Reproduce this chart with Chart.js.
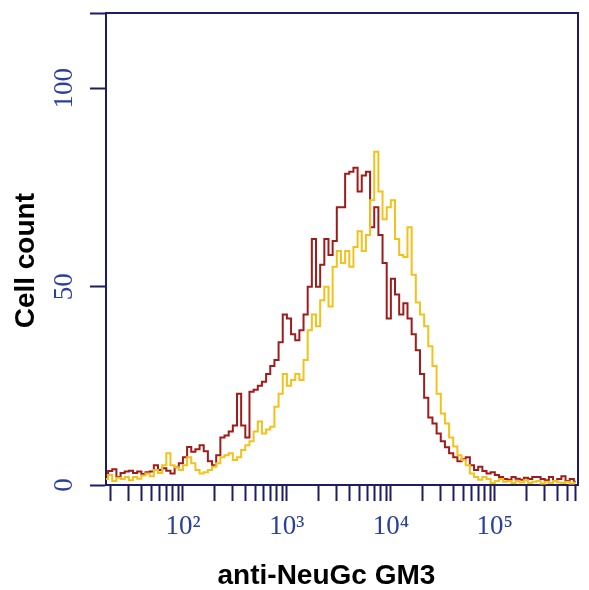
<!DOCTYPE html>
<html>
<head>
<meta charset="utf-8">
<script src="https://cdn.jsdelivr.net/npm/chart.js@4.4.1/dist/chart.umd.min.js"></script>
<style>
  html, body { margin: 0; padding: 0; background: #ffffff; }
  #wrap { width: 589px; height: 590px; }
</style>
</head>
<body>
<div id="wrap"><canvas id="c" width="589" height="590"></canvas></div>
<script>
// Channel positions (log10 of fluorescence intensity)
const channelLog = [
  1.26,1.30,1.34,1.38,1.42,1.46,1.50,1.54,1.58,1.62,
  1.66,1.70,1.74,1.78,1.82,1.86,1.90,1.94,1.98,2.02,
  2.06,2.10,2.14,2.18,2.22,2.26,2.30,2.34,2.38,2.42,
  2.46,2.50,2.54,2.58,2.62,2.66,2.70,2.74,2.78,2.82,
  2.86,2.90,2.94,2.98,3.02,3.06,3.10,3.14,3.18,3.22,
  3.26,3.30,3.34,3.38,3.42,3.46,3.50,3.54,3.58,3.62,
  3.66,3.70,3.74,3.78,3.82,3.86,3.90,3.94,3.98,4.02,
  4.06,4.10,4.14,4.18,4.22,4.26,4.30,4.34,4.38,4.42,
  4.46,4.50,4.54,4.58,4.62,4.66,4.70,4.74,4.78,4.82,
  4.86,4.90,4.94,4.98,5.02,5.06,5.10,5.14,5.18,5.22,
  5.26,5.30,5.34,5.38,5.42,5.46,5.50,5.54,5.58,5.62,
  5.66,5.70,5.74,5.78
];

// Cell counts, dark red histogram
const redCounts = [
  2.5,3.5,4,2,3,3.4,3.6,3,3.4,2.8,
  3.2,3.4,5,3.8,4.2,3.6,2.9,4.5,5.5,7,
  9.6,8.4,9,10,8.5,6,5,7.5,12,12.5,
  13.5,15,23,15,12,23.5,24,25,26,28,
  30,31.5,36,43,42,38,36.5,39,43,50,
  62,50,55.5,62,58,61.5,70,70,78.5,79,
  80,74,78,79,65,70,63,56,42,52,
  48,43,45.8,42,38,34,28,22,17,15.5,
  13,11,9.5,8,7,6,6.5,7,5,3.8,
  4.6,3.5,2.9,3.2,2.5,2,1.5,1.3,2,1.6,
  1.3,1.8,1.5,2,2,1.5,1.2,2,1,1.5,
  2.2,1,1.5,0.8
];

// Cell counts, yellow histogram
const yellowCounts = [
  1.5,2.5,1,1.8,1.5,2,1.2,2,1.6,2.4,
  2.9,2.2,3.8,3,5,8,5,4.5,3.8,5,
  7,5.5,3.8,2.9,3.2,3.8,4.6,5.5,7,7.5,
  8,6.3,7,8.8,10,11,13.5,16,13,14,
  14.7,19.7,23,28,25,26.5,28,26.5,31.5,39,
  43,40,46.6,50,45,55,59,56,59,55,
  60,64,59,63,71.8,84,74,67,70,71.8,
  62,58,57.5,65,53,46,43,40,35,30,
  23,18,15.5,12,9.7,7.5,6.3,5,2.9,2,
  1.3,2,1.5,0.5,1,1.5,0.8,1,0.5,1,
  0.6,1.2,0.5,0.8,1,0.4,0.8,0.5,1,0.6,
  0.5,0.8,0.4,0.6
];

// Axis ticks
const xDecades = [10, 100, 1000, 10000, 100000];
const xMultipliers = [1, 2, 3, 4, 5, 6, 7, 8, 9];
const xLabelValues = [100, 1000, 10000, 100000];
const xLabelTexts = ['10\u00B2', '10\u00B3', '10\u2074', '10\u2075'];
const yTickValues = [0, 50, 100, 119];
const yLabelTexts = ['0', '50', '100', ''];

const xMin = Math.pow(10, 1.26);
const xMax = Math.pow(10, 5.80);

const NAVY = '#1d1d66';
const BLUE = '#2a409c';

const toPoints = (counts) => counts.map((v, i) => ({ x: Math.pow(10, channelLog[i]), y: v }));

const framePlugin = {
  id: 'frame',
  afterDraw(chart) {
    const { ctx, chartArea: a } = chart;
    ctx.save();
    ctx.strokeStyle = NAVY;
    ctx.lineWidth = 2;
    ctx.beginPath();
    ctx.moveTo(a.left, a.top);
    ctx.lineTo(a.right, a.top);
    ctx.lineTo(a.right, a.bottom);
    ctx.stroke();
    ctx.restore();
  }
};

function zeroPad(scale) {
  scale.paddingTop = 0;
  scale.paddingBottom = 0;
  scale.paddingLeft = 0;
  scale.paddingRight = 0;
}

new Chart(document.getElementById('c'), {
  type: 'line',
  data: {
    datasets: [
      {
        label: 'yellow',
        data: toPoints(yellowCounts),
        borderColor: '#f2c21b',
        borderWidth: 2,
        pointRadius: 0,
        stepped: 'middle',
        fill: false
      },
      {
        label: 'red',
        data: toPoints(redCounts),
        borderColor: '#9e1c1c',
        borderWidth: 2,
        pointRadius: 0,
        stepped: 'middle',
        fill: false
      }
    ]
  },
  options: {
    responsive: false,
    animation: false,
    devicePixelRatio: 1,
    layout: { padding: { top: 13, right: 11, left: 0, bottom: 0 } },
    plugins: {
      legend: { display: false },
      tooltip: { enabled: false }
    },
    scales: {
      x: {
        type: 'logarithmic',
        min: xMin,
        max: xMax,
        afterBuildTicks(scale) {
          const t = [];
          xDecades.forEach(d => xMultipliers.forEach(m => {
            const v = d * m;
            if (v >= xMin && v <= xMax) t.push({ value: v });
          }));
          scale.ticks = t;
        },
        afterFit(scale) { scale.height = 105; zeroPad(scale); },
        ticks: {
          autoSkip: false,
          maxRotation: 0,
          minRotation: 0,
          padding: 10,
          color: BLUE,
          font: { family: 'Liberation Serif', size: 27 },
          callback(value) {
            const k = xLabelValues.findIndex(v => Math.abs(v - value) < 1e-6 * v);
            return k >= 0 ? xLabelTexts[k] : '';
          }
        },
        grid: {
          drawOnChartArea: false,
          drawTicks: true,
          tickLength: 16,
          tickColor: NAVY,
          tickWidth: 2
        },
        border: { display: true, color: NAVY, width: 2 },
        title: {
          display: true,
          text: 'anti-NeuGc GM3    ',
          color: '#000000',
          font: { family: 'Liberation Sans', size: 28, weight: 'bold', lineHeight: 1 },
          padding: { top: 0, bottom: 0 }
        }
      },
      y: {
        type: 'linear',
        min: 0,
        max: 119,
        afterBuildTicks(scale) {
          scale.ticks = yTickValues.map(v => ({ value: v }));
        },
        afterFit(scale) { scale.width = 106; zeroPad(scale); },
        ticks: {
          autoSkip: false,
          minRotation: 90,
          maxRotation: 90,
          crossAlign: 'center',
          padding: 5,
          color: BLUE,
          font: { family: 'Liberation Serif', size: 27 },
          callback(value) {
            const k = yTickValues.indexOf(value);
            return k >= 0 ? yLabelTexts[k] : '';
          }
        },
        grid: {
          drawOnChartArea: false,
          drawTicks: true,
          tickLength: 16,
          tickColor: NAVY,
          tickWidth: 2
        },
        border: { display: true, color: NAVY, width: 2 },
        title: {
          display: true,
          text: 'Cell count   ',
          color: '#000000',
          font: { family: 'Liberation Sans', size: 28, weight: 'bold', lineHeight: 1 },
          padding: { top: 12, bottom: 0 }
        }
      }
    }
  },
  plugins: [framePlugin]
});
</script>
</body>
</html>
